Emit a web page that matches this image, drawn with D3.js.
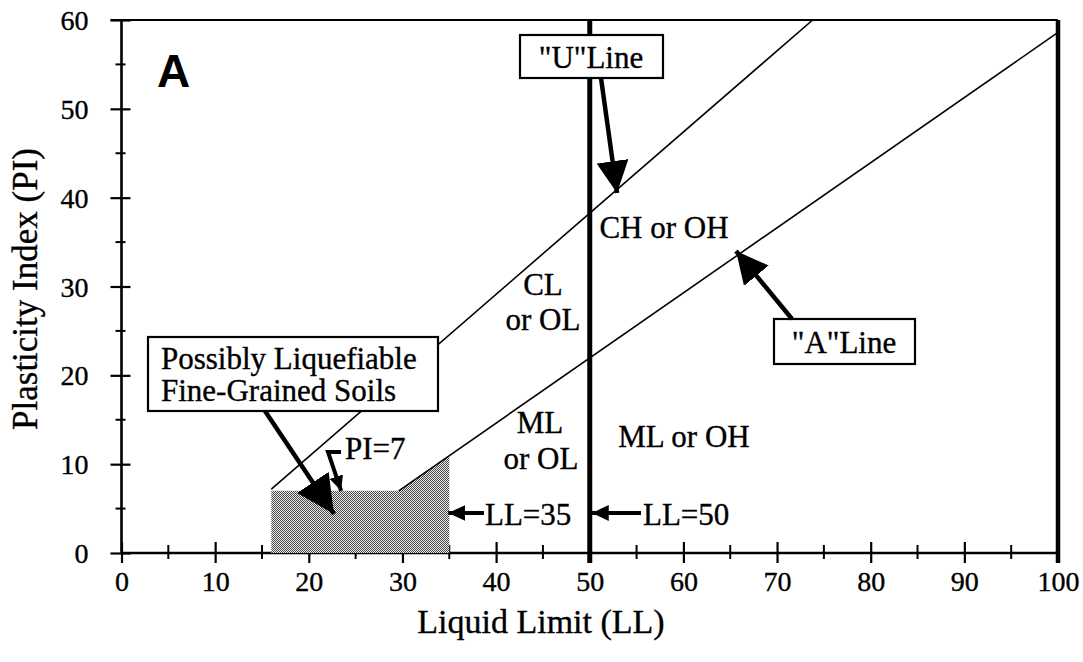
<!DOCTYPE html>
<html>
<head>
<meta charset="utf-8">
<script src="https://cdn.jsdelivr.net/npm/d3@7/dist/d3.min.js"></script>
<style>
  html, body { margin: 0; padding: 0; background: #fff; }
  svg { display: block; }
  text { font-family: "Liberation Serif", "Times New Roman", serif; fill: #000; stroke: #000; stroke-width: 0.35px; }
</style>
</head>
<body>
<svg id="chart" width="1083" height="662"></svg>
<script>
// Plasticity chart: Liquid Limit vs Plasticity Index
const llMajor = [0, 10, 20, 30, 40, 50, 60, 70, 80, 90, 100];
const llMinor = [5, 15, 25, 35, 45, 55, 65, 75, 85, 95];
const piMajor = [0, 10, 20, 30, 40, 50, 60];
const piMinor = [5, 15, 25, 35, 45, 55];

// "A" line and "U" line end points (LL, PI)
const aLineLL = [29.6, 100];
const aLinePI = [7, 58.6];
const uLineLL = [16, 73.8];
const uLinePI = [7.2, 60];

// Possibly liquefiable zone outline (LL, PI)
const zoneLL = [16, 16, 29.6, 35, 35];
const zonePI = [0, 7, 7, 11, 0];

// LL = 50 boundary
const dividerLL = 50;

const svg = d3.select("#chart");
const x = d3.scaleLinear().domain([0, 100]).range([121.5, 1058]);
const y = d3.scaleLinear().domain([0, 60]).range([553, 20]);

// checker fill for the shaded zone
const defs = svg.append("defs");
const pat = defs.append("pattern")
  .attr("id", "checker").attr("patternUnits", "userSpaceOnUse")
  .attr("width", 2).attr("height", 2);
pat.append("rect").attr("width", 2).attr("height", 2).attr("fill", "#ececec");
pat.append("rect").attr("x", 0).attr("y", 0).attr("width", 1).attr("height", 1).attr("fill", "#474747");
pat.append("rect").attr("x", 1).attr("y", 1).attr("width", 1).attr("height", 1).attr("fill", "#474747");

const arrowHead = (id, len, wid) => {
  defs.append("marker")
    .attr("id", id).attr("viewBox", `0 0 ${len} ${wid}`)
    .attr("refX", len).attr("refY", wid / 2)
    .attr("markerWidth", len).attr("markerHeight", wid)
    .attr("markerUnits", "userSpaceOnUse")
    .attr("orient", "auto")
    .append("path").attr("d", `M0,0L${len},${wid / 2}L0,${wid}Z`).attr("fill", "#000");
};
arrowHead("headBig", 32, 32);
arrowHead("headHuge", 38, 38);
arrowHead("headSmall", 17, 16);
arrowHead("headPI", 15, 14);

// Bottom axis: major ticks cross the line, minor ticks are shorter
const xAxis = svg.append("g").attr("transform", `translate(0,${y(0)})`)
  .call(d3.axisBottom(x).tickValues(llMajor).tickSize(0).tickPadding(0).tickFormat(d3.format("d")));
xAxis.select(".domain").remove();
xAxis.selectAll(".tick text")
  .attr("y", 38).attr("dy", 0)
  .style("font-family", "Liberation Serif").style("font-size", "28px");
xAxis.selectAll(".tick").append("line")
  .attr("y1", -11).attr("y2", 10).attr("stroke", "#000").attr("stroke-width", 2.2);
xAxis.selectAll(".minor").data(llMinor).enter().append("line")
  .attr("x1", d => x(d)).attr("x2", d => x(d))
  .attr("y1", -8).attr("y2", 6).attr("stroke", "#000").attr("stroke-width", 2);

// Left axis
const yAxis = svg.append("g").attr("transform", `translate(${x(0)},0)`)
  .call(d3.axisLeft(y).tickValues(piMajor).tickSize(0).tickPadding(0).tickFormat(d3.format("d")));
yAxis.select(".domain").remove();
yAxis.selectAll(".tick text")
  .attr("x", -33).attr("dy", "0.34em")
  .style("font-family", "Liberation Serif").style("font-size", "28px");
yAxis.selectAll(".tick").append("line")
  .attr("x1", -11).attr("x2", 9).attr("stroke", "#000").attr("stroke-width", 2.2);
yAxis.selectAll(".minor").data(piMinor).enter().append("line")
  .attr("y1", d => y(d)).attr("y2", d => y(d))
  .attr("x1", -6).attr("x2", 4).attr("stroke", "#000").attr("stroke-width", 2);

// Frame
svg.append("line").attr("x1", x(0)).attr("x2", x(100)).attr("y1", y(0)).attr("y2", y(0))
  .attr("stroke", "#000").attr("stroke-width", 2.6);
svg.append("line").attr("x1", x(0)).attr("x2", x(0)).attr("y1", y(0) + 1).attr("y2", y(60))
  .attr("stroke", "#000").attr("stroke-width", 2.6);
svg.append("line").attr("x1", x(0) - 11).attr("x2", x(100)).attr("y1", y(60)).attr("y2", y(60))
  .attr("stroke", "#000").attr("stroke-width", 2);
svg.append("line").attr("x1", x(100)).attr("x2", x(100)).attr("y1", y(0) + 10).attr("y2", y(60))
  .attr("stroke", "#000").attr("stroke-width", 4.5);

// Shaded zone
const zonePts = zoneLL.map((d, i) => [x(d), y(zonePI[i])]);
svg.append("path").attr("d", d3.line()(zonePts) + "Z").attr("fill", "url(#checker)");

// A line and U line
const line = d3.line().x(d => x(d[0])).y(d => y(d[1]));
svg.append("path").attr("d", line(aLineLL.map((d, i) => [d, aLinePI[i]])))
  .attr("stroke", "#000").attr("stroke-width", 1.6).attr("fill", "none");
svg.append("path").attr("d", line(uLineLL.map((d, i) => [d, uLinePI[i]])))
  .attr("stroke", "#000").attr("stroke-width", 1.6).attr("fill", "none");

// LL = 50 boundary
svg.append("line").attr("x1", x(dividerLL)).attr("x2", x(dividerLL))
  .attr("y1", y(0) + 10).attr("y2", y(60))
  .attr("stroke", "#000").attr("stroke-width", 5);

// Axis titles
svg.append("text").attr("x", 541).attr("y", 633).attr("text-anchor", "middle")
  .style("font-size", "34px").text("Liquid Limit (LL)");
svg.append("text").attr("transform", "translate(37,289) rotate(-90)").attr("text-anchor", "middle")
  .style("font-size", "35px").text("Plasticity Index (PI)");

// Panel letter
svg.append("text").attr("x", 157).attr("y", 87)
  .style("font-family", "Liberation Sans, Arial, sans-serif").style("font-weight", "bold")
  .style("font-size", "46px").style("stroke-width", "0").text("A");

// Zone labels
const zoneText = (tx, ty, s, anchor = "middle") =>
  svg.append("text").attr("x", tx).attr("y", ty).attr("text-anchor", anchor)
    .style("font-size", "31px").text(s);
zoneText(664, 238, "CH or OH");
zoneText(543, 295, "CL");
zoneText(543, 330, "or OL");
zoneText(540, 433, "ML");
zoneText(541, 469, "or OL");
zoneText(684, 447, "ML or OH");

// Boxed call-outs
const boxed = (bx, by, bw, bh) =>
  svg.append("rect").attr("x", bx).attr("y", by).attr("width", bw).attr("height", bh)
    .attr("fill", "#fff").attr("stroke", "#000").attr("stroke-width", 2.2);

boxed(520, 35, 143, 43);
zoneText(591, 68, "\"U\"Line");
svg.append("line").attr("x1", 601).attr("y1", 78).attr("x2", 617).attr("y2", 193)
  .attr("stroke", "#000").attr("stroke-width", 4.5).attr("marker-end", "url(#headBig)");

boxed(774, 319, 141, 45);
zoneText(844, 353, "\"A\"Line");
svg.append("line").attr("x1", 792).attr("y1", 319).attr("x2", 736).attr("y2", 251)
  .attr("stroke", "#000").attr("stroke-width", 4.5).attr("marker-end", "url(#headBig)");

boxed(148, 337, 290, 74);
zoneText(161, 369, "Possibly Liquefiable", "start");
zoneText(161, 401, "Fine-Grained Soils", "start");
svg.append("line").attr("x1", 265).attr("y1", 411).attr("x2", 334).attr("y2", 514)
  .attr("stroke", "#000").attr("stroke-width", 4.5).attr("marker-end", "url(#headHuge)");

// PI = 7 pointer
zoneText(345, 459, "PI=7", "start");
svg.append("path").attr("d", `M341,452L328,452L${x(23.4) + 0.5},${y(7)}`)
  .attr("stroke", "#000").attr("stroke-width", 4).attr("fill", "none")
  .attr("marker-end", "url(#headPI)");

// LL pointers
svg.append("line").attr("x1", 484).attr("y1", 513).attr("x2", x(35) - 1).attr("y2", 513)
  .attr("stroke", "#000").attr("stroke-width", 4).attr("marker-end", "url(#headSmall)");
zoneText(485, 525, "LL=35", "start");
svg.append("line").attr("x1", 641).attr("y1", 513).attr("x2", x(50) + 2).attr("y2", 513)
  .attr("stroke", "#000").attr("stroke-width", 4).attr("marker-end", "url(#headSmall)");
zoneText(643, 525, "LL=50", "start");
</script>
</body>
</html>
